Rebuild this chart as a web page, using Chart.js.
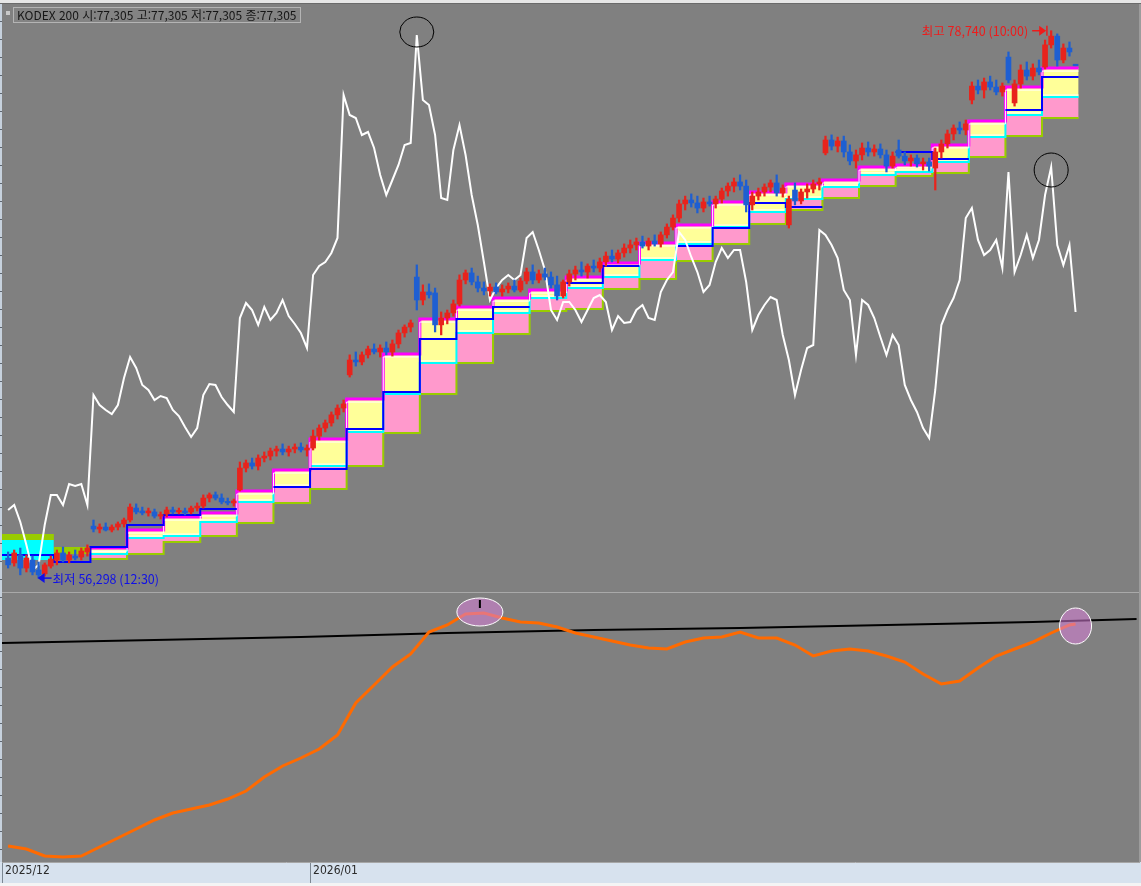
<!DOCTYPE html>
<html lang="ko">
<head>
<meta charset="utf-8">
<title>KODEX 200</title>
<script src="https://cdn.jsdelivr.net/npm/chart.js@4.4.1/dist/chart.umd.min.js"></script>
<style>
  html, body { margin: 0; padding: 0; }
  body { width: 1141px; height: 886px; position: relative; overflow: hidden; background: #808080; }
  .abs { position: absolute; }
  #topStrip { left: 0; top: 0; width: 1141px; height: 3px; background: #e6e6e6; border-bottom: 1px solid #6a6a6a; }
  #ruler { left: 0; top: 4px; width: 2px; height: 858px; background: repeating-linear-gradient(to bottom, #c6d1dd 0 17px, #5d6670 17px 18px); }
  #rightEdge { left: 1139px; top: 4px; width: 2px; height: 858px; background: #9c9c9c; }
  #divider { left: 0; top: 592px; width: 1141px; height: 1px; background: #a9a9a9; }
  #footer { left: 0; top: 883px; width: 1141px; height: 3px; background: #f4f4f4; }
  #priceChart { left: 0; top: 4px; }
  #trendChart { left: 0; top: 594px; }
  #legend { left: 13px; top: 7px; height: 14px; padding: 0 3px; border: 1px solid #b4b4b4; background: #838383; color: #161616; font: 12px/14px "Noto Sans CJK KR", "Noto Sans", sans-serif; white-space: nowrap; }
  #legendDot { left: 6px; top: 11px; width: 4px; height: 4px; background: #c8c8c8; }
</style>
</head>
<body>
<div id="topStrip" class="abs"></div>
<canvas id="priceChart" class="abs" width="1141" height="588"></canvas>
<div id="divider" class="abs"></div>
<canvas id="trendChart" class="abs" width="1141" height="289"></canvas>
<div id="ruler" class="abs"></div>
<div id="rightEdge" class="abs"></div>
<div id="footer" class="abs"></div>
<div id="legendDot" class="abs"></div>
<div id="legend" class="abs"></div>
<script>
// 봉 시세 (원)
const opens = [
  57120, 56920, 57250, 56710, 57040, 56630, 56470, 56790, 57040, 57330,
  57040, 57200, 57160, 57370, 58430, 58310, 58390, 58270, 58390, 58520,
  58680, 59170, 59050, 58970, 59010, 58840, 58930, 59090, 59010, 59050,
  59010, 59170, 59250, 59580, 59710, 59580, 59420, 59380, 59910, 60810,
  61020, 60890, 61220, 61300, 61510, 61590, 61470, 61590, 61670, 61550,
  61630, 62120, 62450, 62660, 62990, 63270, 64630, 65240, 65160, 65450,
  65690, 65570, 65730, 65570, 65900, 66350, 66590, 68640, 67700, 68030,
  67990, 66680, 66960, 67170, 67540, 68520, 68810, 68440, 68190, 68070,
  68230, 68030, 68150, 68270, 68110, 68480, 68850, 68520, 68770, 68640,
  68320, 67860, 68440, 68770, 68930, 68850, 69090, 69010, 69260, 69500,
  69380, 69630, 69830, 69960, 70080, 69910, 70120, 70000, 70370, 70690,
  71060, 71640, 71800, 71680, 71470, 71720, 71640, 71840, 72170, 72370,
  72540, 72370, 71600, 71960, 72130, 72330, 72500, 72090, 70780, 72210,
  71760, 72130, 72250, 72460, 73730, 74260, 74010, 74220, 73770, 73400,
  73650, 73930, 73770, 73890, 73650, 73190, 73850, 73600, 73400, 73520,
  73280, 73360, 73110, 73770, 74100, 74510, 74750, 74670, 75900, 76470,
  76310, 76640, 76430, 76230, 77660, 75780, 76560, 77130, 76880, 77210,
  77250, 78160, 78520, 77540, 78030, 77305
];
const highs = [
  57370, 57450, 57530, 57250, 57200, 56960, 56920, 57200, 57450, 57570,
  57370, 57450, 57530, 57660, 58680, 58520, 58560, 58480, 58600, 58760,
  59340, 59340, 59210, 59170, 59130, 59010, 59210, 59210, 59170, 59170,
  59250, 59380, 59710, 59790, 59830, 59750, 59580, 59540, 61060, 61140,
  61220, 61350, 61470, 61630, 61710, 61800, 61710, 61800, 61840, 61760,
  62370, 62580, 62780, 63110, 63400, 63600, 65450, 65570, 65570, 65810,
  65900, 65860, 65980, 66060, 66470, 66680, 66880, 69140, 68320, 68360,
  68190, 67210, 67290, 67700, 68730, 68930, 69010, 68680, 68440, 68360,
  68400, 68320, 68400, 68520, 68600, 69010, 69140, 68930, 69010, 68850,
  68680, 68520, 68930, 69090, 69260, 69180, 69340, 69420, 69670, 69750,
  69750, 70000, 70160, 70240, 70320, 70240, 70370, 70490, 70820, 71190,
  71800, 71960, 72050, 71960, 71880, 71960, 71960, 72290, 72500, 72700,
  72830, 72620, 72130, 72290, 72460, 72620, 72830, 72420, 71960, 72500,
  72250, 72460, 72620, 72700, 74420, 74470, 74380, 74420, 74060, 73850,
  74140, 74180, 74060, 74100, 73850, 73770, 74260, 73770, 73650, 73650,
  73520, 73520, 73930, 74260, 74670, 74880, 75000, 75080, 76640, 76720,
  76800, 76880, 76720, 76600, 77870, 76720, 77340, 77460, 77380, 77540,
  78360, 78740, 78610, 78200, 78280, 77305
];
const lows = [
  56710, 56790, 56430, 56550, 56430, 56298, 56380, 56710, 56840, 56960,
  56920, 57040, 57040, 57200, 58190, 58150, 58230, 58190, 58270, 58390,
  58600, 58930, 58890, 58840, 58760, 58720, 58800, 58930, 58930, 58890,
  58930, 59050, 59170, 59420, 59500, 59340, 59300, 59250, 59870, 60650,
  60770, 60730, 61060, 61140, 61300, 61350, 61300, 61430, 61470, 61300,
  61550, 61960, 62290, 62530, 62820, 63110, 64540, 64990, 65040, 65320,
  65490, 65360, 65450, 65400, 65730, 66180, 66390, 67290, 67500, 67780,
  66390, 66270, 66720, 67040, 67450, 68360, 68320, 68030, 67910, 67860,
  67950, 67860, 67990, 68030, 68030, 68360, 68360, 68400, 68520, 68190,
  67700, 67780, 68270, 68520, 68680, 68600, 68850, 68850, 69090, 69260,
  69220, 69460, 69630, 69750, 69830, 69750, 69910, 69870, 70240, 70570,
  70900, 71390, 71510, 71270, 71310, 71550, 71470, 71680, 71960, 72130,
  72210, 71310, 71390, 71800, 71960, 72130, 71960, 71920, 70650, 71600,
  71640, 71880, 72090, 72210, 73650, 73850, 73770, 73560, 73240, 73110,
  73440, 73600, 73600, 73520, 72950, 73110, 73520, 73240, 73190, 73150,
  73030, 72990, 72210, 73520, 73930, 74260, 74510, 74470, 75740, 76150,
  75980, 76310, 76110, 76060, 76600, 75650, 76390, 76720, 76720, 76930,
  77170, 78030, 77290, 77420, 77700, 77305
];
const closes = [
  56840, 57330, 56710, 57120, 56550, 56430, 56840, 57080, 57330, 57040,
  57250, 57120, 57410, 57530, 58310, 58390, 58270, 58390, 58520, 58680,
  59210, 59010, 58970, 59050, 58840, 58890, 59090, 59010, 59050, 58970,
  59170, 59250, 59580, 59710, 59580, 59420, 59380, 59460, 60810, 61020,
  60890, 61220, 61300, 61510, 61590, 61470, 61590, 61670, 61550, 61630,
  62120, 62450, 62660, 62990, 63270, 63440, 65240, 65160, 65450, 65690,
  65570, 65730, 65570, 65900, 66350, 66590, 66760, 67700, 68030, 67910,
  66680, 66960, 67170, 67540, 68520, 68810, 68440, 68190, 68070, 68230,
  68030, 68150, 68270, 68110, 68480, 68850, 68520, 68770, 68640, 68320,
  67860, 68440, 68770, 68930, 68850, 69090, 69010, 69260, 69500, 69380,
  69630, 69830, 69960, 70080, 69910, 70120, 70000, 70370, 70690, 71060,
  71640, 71800, 71680, 71470, 71720, 71640, 71840, 72170, 72370, 72540,
  72370, 71600, 71960, 72130, 72330, 72500, 72090, 72290, 71840, 71760,
  72130, 72250, 72460, 72540, 74260, 74010, 74220, 73770, 73400, 73650,
  73930, 73770, 73890, 73650, 73190, 73600, 73600, 73400, 73520, 73280,
  73360, 73190, 73770, 74100, 74510, 74750, 74670, 74920, 76470, 76310,
  76640, 76430, 76230, 76470, 76720, 76560, 77130, 76880, 77210, 77050,
  78160, 78520, 77540, 78030, 77870, 77305
];

// 흰색 보조지표 (봉마다 1개)
const strength = [
  16.4, 17.4, 14.0, 9.4, 4.4, 5.4, 13.4, 19.4, 19.4, 17.4,
  21.6, 21.2, 21.6, 17.4, 39.4, 37.4, 36.4, 35.6, 37.4, 42.8,
  47.0, 44.8, 41.4, 40.4, 38.4, 39.2, 38.8, 36.4, 35.2, 33.0,
  31.0, 32.8, 39.4, 41.6, 41.4, 39.0, 37.4, 36.0, 54.8, 57.8,
  56.4, 53.4, 57.0, 54.4, 55.8, 58.4, 55.2, 53.6, 51.8, 48.8,
  63.4, 65.2, 66.0, 67.8, 70.8, 99.4, 95.4, 94.8, 91.4, 92.0,
  88.8, 83.4, 79.4, 82.4, 85.4, 89.4, 89.8, 111.4, 98.4, 97.4,
  91.4, 78.8, 78.4, 88.4, 93.4, 87.4, 79.4, 73.4, 66.0, 58.4,
  60.8, 62.4, 63.4, 62.4, 63.4, 70.8, 72.0, 68.4, 64.4, 56.4,
  54.4, 58.0, 58.0, 56.4, 54.0, 56.4, 58.8, 59.4, 58.0, 52.4,
  55.2, 53.8, 54.0, 56.4, 57.4, 54.8, 54.4, 60.0, 62.4, 64.0,
  72.0, 70.4, 67.0, 64.0, 60.0, 61.4, 66.0, 68.8, 66.8, 68.4,
  68.4, 62.0, 52.4, 55.4, 57.4, 59.0, 58.4, 51.4, 46.4, 39.4,
  44.4, 48.8, 49.4, 72.4, 71.4, 69.4, 66.8, 60.4, 58.4, 47.4,
  58.4, 57.4, 54.8, 51.0, 47.4, 51.4, 49.4, 41.4, 38.4, 36.0,
  32.8, 30.8, 40.4, 53.4, 56.4, 58.8, 62.4, 74.8, 76.8, 70.4,
  67.4, 68.4, 70.4, 64.8, 84.0, 64.0, 67.4, 71.4, 66.8, 70.4,
  79.4, 85.0, 69.4, 65.4, 69.4, 56.0
];

// 6봉 단위 박스: 상단 / 중단 / 하단 / 기준선
const boxTop = [null, null, 57530, 58270, 58800, 58970, 59870, 60730, 62000, 63640, 65490, 66920, 67410, 67780, 68110, 68640, 69220, 70040, 70780, 71720, 72130, 72460, 72620, 73150, 73240, 74060, 75040, 76430, 77210];
const boxMid = [null, null, 57290, 57940, 58020, 58600, 59420, 60030, 60890, 62290, 63850, 65120, 66350, 67170, 67780, 68190, 68640, 69340, 70000, 70690, 71310, 71840, 72330, 72830, 72950, 73360, 74380, 75290, 76020];
const boxLow = [null, null, 57080, 57290, 57780, 58020, 58560, 59380, 59950, 60890, 62250, 63850, 65120, 66310, 67250, 67330, 68150, 68560, 69300, 70000, 70820, 71390, 71880, 72370, 72780, 72910, 73560, 74420, 75160];
const boxBase = [57250, 56960, 57570, 58480, 58890, 59130, null, 60030, 60770, 62410, 63930, 66100, 66920, 67410, null, 68400, 69090, null, 69910, 70650, 71680, 71510, null, null, 73770, 73480, null, 75490, 76840];

// 초반 구간 박스
const openLimeTop = [58110, 57570];
const openLimeLow = [57860, 57290];
const openCyanTop = [57860];
const openCyanLow = [57040];

// 하단 지표
const trendAt = [0, 3, 6, 9, 12, 15, 18, 21, 24, 27, 30, 33, 36, 39, 42, 45, 48, 51, 54, 57,
  60, 63, 66, 69, 72, 75, 78, 81, 84, 87, 90, 93, 96, 99, 102, 105, 108, 111, 114, 117,
  120, 123, 126, 129, 132, 135, 138, 141, 144, 147, 150, 153, 156, 159, 162, 165, 168, 171, 174, 175];
const trendVals = [6.4, 5.2, 2.4, 2.0, 2.4, 6.0, 9.6, 13.2, 16.8, 19.6, 21.2, 22.8, 25.2, 28.4, 34.0, 38.4, 41.6, 45.2, 50.8, 63.6,
  70.8, 78.0, 83.2, 92.0, 94.8, 99.2, 99.6, 97.6, 96.0, 95.6, 94.0, 91.6, 90.0, 88.4, 86.8, 85.6, 85.2, 88.0, 89.6, 90.0,
  92.0, 89.6, 89.6, 86.8, 82.4, 84.4, 85.2, 84.4, 82.4, 80.0, 75.2, 71.2, 72.4, 77.6, 82.4, 85.2, 88.0, 91.6, 94.8, 95.2];
const signalAt = [-1, 24, 48, 72, 96, 120, 144, 168, 185];
const signalVals = [87.6, 88.8, 90.0, 91.6, 92.8, 93.6, 94.8, 96.0, 97.2];

// x축 라벨
const monthAt = [-1, 49.5];
const monthLabels = ['2025/12', '2026/01'];

const RED = '#e8231c';
const BLUE = '#1e5fd2';
const STEP = 6;
const fmt = v => v.toLocaleString('en-US');

const last = opens.length - 1;
document.getElementById('legend').textContent =
  `KODEX 200 시:${fmt(opens[last])} 고:${fmt(highs[last])} 저:${fmt(lows[last])} 종:${fmt(closes[last])}`;

// 박스 한 칸 = 시작점, 끝점 두 개
function boxPoints(levels) {
  const pts = [];
  levels.forEach((v, k) => {
    const from = k === 0 ? -1 : k * STEP + 1.5;
    pts.push({ x: from, y: v }, { x: k * STEP + 7.5, y: v });
  });
  return pts;
}

const candleColor = i => closes[i] > opens[i] ? RED : BLUE;

let hi = 0, lo = 0;
highs.forEach((v, i) => { if (v > highs[hi]) hi = i; });
lows.forEach((v, i) => { if (v < lows[lo]) lo = i; });

// 겹선(흰 테두리) 그릴 때 세로로 몇 px 밀기
const shiftPlugin = {
  id: 'shift',
  beforeDatasetDraw(chart, args) {
    const dy = chart.data.datasets[args.index].shiftY;
    if (dy) { chart.ctx.save(); chart.ctx.translate(0, dy); }
  },
  afterDatasetDraw(chart, args) {
    if (chart.data.datasets[args.index].shiftY) chart.ctx.restore();
  }
};

// 원 표시, 최고/최저 표시 (설정은 클로저로 넘김)
function makeMarks(cfg) {
  return {
    id: 'marks',
    afterDatasetsDraw(chart) {
      const { ctx, scales } = chart;
      ctx.save();
      (cfg.rings || []).forEach(r => {
        const x = scales.x.getPixelForValue(r.at) + (r.dx || 0);
        const y = scales[r.axis].getPixelForValue(r.value) + (r.dy || 0);
        ctx.beginPath();
        ctx.ellipse(x, y, r.rx, r.ry, 0, 0, Math.PI * 2);
        if (r.fill) { ctx.fillStyle = r.fill; ctx.fill(); }
        ctx.lineWidth = r.lineWidth || 1;
        ctx.strokeStyle = r.stroke;
        ctx.stroke();
        if (r.pin) {
          ctx.fillStyle = '#000000';
          ctx.fillRect(x - 1, y - r.ry + 2, 2, 8);
        }
      });
      (cfg.callouts || []).forEach(c => {
        const px = scales.x.getPixelForValue(c.at);
        const py = scales.y.getPixelForValue(c.value);
        ctx.fillStyle = c.color;
        ctx.strokeStyle = c.color;
        ctx.lineWidth = 1.5;
        ctx.font = '12.5px "Noto Sans CJK KR", "Noto Sans", sans-serif';
        ctx.textBaseline = 'middle';
        if (c.side === 'left') {
          const tip = px - 5;
          ctx.beginPath(); ctx.moveTo(tip - 14, py); ctx.lineTo(tip - 6, py); ctx.stroke();
          ctx.beginPath(); ctx.moveTo(tip, py); ctx.lineTo(tip - 7, py - 5); ctx.lineTo(tip - 7, py + 5); ctx.closePath(); ctx.fill();
          ctx.fillRect(tip, py - 5, 1.5, 10);
          ctx.textAlign = 'right';
          ctx.fillText(c.text, tip - 18, py + 1);
        } else {
          const tip = px - 1;
          ctx.beginPath(); ctx.moveTo(tip, py); ctx.lineTo(tip + 7, py - 5); ctx.lineTo(tip + 7, py + 5); ctx.closePath(); ctx.fill();
          ctx.beginPath(); ctx.moveTo(tip + 6, py); ctx.lineTo(tip + 14, py); ctx.stroke();
          ctx.textAlign = 'left';
          ctx.fillText(c.text, tip + 15, py + 1);
        }
      });
      ctx.restore();
    }
  };
}

// 하단 날짜 띠 배경
const stripPlugin = {
  id: 'strip',
  beforeDraw(chart) {
    const s = chart.scales.x;
    const ctx = chart.ctx;
    ctx.save();
    ctx.fillStyle = '#d7e2ee';
    ctx.fillRect(0, s.top, chart.width, s.bottom - s.top);
    ctx.restore();
  }
};

const hidden = { borderWidth: 0, borderColor: 'transparent' };

new Chart(document.getElementById('priceChart'), {
  type: 'line',
  data: {
    datasets: [
      { ...hidden, data: boxPoints(boxTop), backgroundColor: '#ffff99', fill: { target: 1 }, order: 40 },
      { ...hidden, data: boxPoints(boxMid), backgroundColor: '#ff99cc', fill: { target: 2 }, order: 39 },
      { ...hidden, data: boxPoints(boxLow), fill: false, order: 38 },
      { ...hidden, data: boxPoints(openLimeTop), backgroundColor: '#99cc00', fill: { target: 4 }, order: 37 },
      { ...hidden, data: boxPoints(openLimeLow), fill: false, order: 36 },
      { ...hidden, data: boxPoints(openCyanTop), backgroundColor: '#00ffff', fill: { target: 6 }, order: 35 },
      { ...hidden, data: boxPoints(openCyanLow), fill: false, order: 34 },
      { data: boxPoints(boxLow), borderColor: '#99cc00', borderWidth: 2, order: 30 },
      { data: boxPoints(boxMid), borderColor: '#ffffff', borderWidth: 1, shiftY: -2, order: 29 },
      { data: boxPoints(boxMid), borderColor: '#00ffff', borderWidth: 2, order: 28 },
      { data: boxPoints(boxTop), borderColor: '#ff00ff', borderWidth: 3, order: 27 },
      { data: boxPoints(boxTop), borderColor: '#ffffff', borderWidth: 1, shiftY: 3, order: 26 },
      { data: boxPoints(boxBase), borderColor: '#0000ff', borderWidth: 2, order: 25 },
      { data: strength.map((v, i) => ({ x: i, y: v })), yAxisID: 'yW', borderColor: '#ffffff', borderWidth: 2, order: 5 },
      {
        type: 'bar', data: lows.map((v, i) => ({ x: i, y: [v, highs[i]] })),
        backgroundColor: c => candleColor(c.dataIndex), barThickness: 1.6, grouped: false, order: 3
      },
      {
        type: 'bar', data: opens.map((v, i) => ({ x: i, y: [v, closes[i]] })),
        backgroundColor: c => candleColor(c.dataIndex), barThickness: 5, minBarLength: 1.5, grouped: false, order: 2
      }
    ]
  },
  options: {
    responsive: false,
    animation: false,
    events: [],
    layout: { padding: { left: 2, right: 2, top: 0, bottom: 0 } },
    elements: { point: { radius: 0 }, line: { tension: 0, borderJoinStyle: 'miter' } },
    plugins: { legend: { display: false }, tooltip: { enabled: false } },
    scales: {
      x: { type: 'linear', min: -1, max: 185.4, display: false, offset: false },
      y: { type: 'linear', min: 55728, max: 79836, display: false },
      yW: { type: 'linear', min: 0, max: 117.6, display: false }
    }
  },
  plugins: [shiftPlugin, makeMarks({
    rings: [
      { at: 67, axis: 'yW', value: strength[67], rx: 17, ry: 15, dy: -3, stroke: '#000000' },
      { at: 171, axis: 'yW', value: strength[171], rx: 17, ry: 17, dy: 3, stroke: '#000000' }
    ],
    callouts: [
      { at: hi, value: highs[hi], text: `최고 ${fmt(highs[hi])} (10:00)`, color: '#ee1b1b', side: 'left' },
      { at: lo, value: lows[lo], text: `최저 ${fmt(lows[lo])} (12:30)`, color: '#1010e6', side: 'right' }
    ]
  })]
});

new Chart(document.getElementById('trendChart'), {
  type: 'line',
  data: {
    datasets: [
      { data: signalAt.map((x, i) => ({ x, y: signalVals[i] })), borderColor: '#000000', borderWidth: 2, order: 2 },
      { data: trendAt.map((x, i) => ({ x, y: trendVals[i] })), borderColor: '#ff6a00', borderWidth: 3, order: 1 }
    ]
  },
  options: {
    responsive: false,
    animation: false,
    events: [],
    layout: { padding: { left: 2, right: 2, top: 0, bottom: 0 } },
    elements: { point: { radius: 0 }, line: { tension: 0 } },
    plugins: { legend: { display: false }, tooltip: { enabled: false } },
    scales: {
      x: {
        type: 'linear', min: -1, max: 185.4, offset: false, position: 'bottom',
        afterBuildTicks: s => { s.ticks = monthAt.map(v => ({ value: v })); },
        afterFit: s => { s.height = 21; },
        grid: { drawOnChartArea: false, drawTicks: true, tickLength: 21, color: '#7c8792', offset: false },
        border: { display: true, color: '#a6a6a6' },
        ticks: {
          align: 'start', labelOffset: 3, padding: -19, color: '#2b2b2b', autoSkip: false, maxRotation: 0,
          font: { family: '"Liberation Sans Narrow", "DejaVu Sans Condensed", sans-serif', size: 12 },
          callback: v => { const i = monthAt.indexOf(v); return i < 0 ? '' : monthLabels[i]; }
        }
      },
      y: { type: 'linear', min: 0, max: 107.2, display: false }
    }
  },
  plugins: [stripPlugin, makeMarks({
    rings: [
      { at: trendAt[26], axis: 'y', value: trendVals[26], rx: 23, ry: 14, dx: -4, dy: -1, fill: 'rgba(215,125,215,0.55)', stroke: '#ffffff', pin: true },
      { at: trendAt[59], axis: 'y', value: trendVals[59], rx: 16, ry: 18, dy: 2, fill: 'rgba(215,125,215,0.55)', stroke: '#ffffff' }
    ]
  })]
});
</script>
</body>
</html>
